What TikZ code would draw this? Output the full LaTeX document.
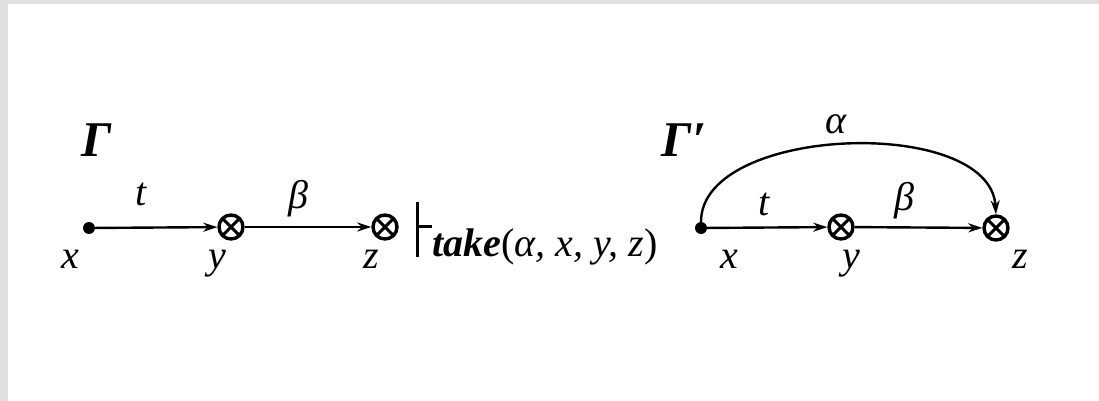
\documentclass[tikz,border=0pt]{standalone}
\usepackage{fontspec}
\setmainfont{Liberation Serif}
\usetikzlibrary{arrows.meta}
\begin{document}
\begin{tikzpicture}[x=1pt,y=-1pt,
  lbl/.style={font=\fontsize{40}{46}\selectfont\itshape, inner sep=0pt, anchor=base},
  biglbl/.style={font=\fontsize{50}{56}\selectfont\bfseries\itshape, inner sep=0pt, anchor=base},
  vdot/.style={circle, fill=black, inner sep=0pt, minimum size=12pt},
  otimes/.style={circle, draw=black, line width=3.4pt, inner sep=0pt, minimum size=24pt,
    path picture={\draw[line width=3pt] (path picture bounding box.north west) -- (path picture bounding box.south east)
      (path picture bounding box.north east) -- (path picture bounding box.south west);}},
  edge/.style={line width=2.4pt, -{Stealth[length=14pt,width=9pt]}}
]
\useasboundingbox (0,0) rectangle (1099,401);
\fill[black!12] (0,0) rectangle (1099,401);
\fill[white] (8,4) rectangle (1099,401);

% left graph
\node[biglbl] (G) at (97,156) {Γ};
\node[vdot] (x1) at (89,228) {};
\node[otimes] (y1) at (231,227) {};
\node[otimes] (z1) at (385,227) {};
\draw[edge] (x1) -- (y1);
\draw[edge] (y1) -- (z1);
\node[lbl] (t1) at (141,205) {t};
\node[lbl] (b1) at (298,208) {β};
\node[lbl] (xl1) at (70,268) {x};
\node[lbl] (yl1) at (217,268) {y};
\node[lbl] (zl1) at (371,268) {z};

% turnstile
\coordinate (ta) at (417,202);
\coordinate (tb) at (417,257);
\coordinate (tc) at (417,226);
\coordinate (td) at (432,226);
\draw[line width=3pt] (ta) -- (tb) (tc) -- (td);
\node[lbl, anchor=base west] (take) at (432,256) {\textbf{take}\upshape(\itshape α, x, y, z\upshape)};

% right graph
\node[biglbl] (G2) at (684,156) {Γ′};
\node[vdot] (x2) at (701,228) {};
\node[otimes] (y2) at (841,227) {};
\node[otimes] (z2) at (996,228) {};
\draw[edge] (x2) -- (y2);
\draw[edge] (y2) -- (z2);
\draw[edge] (x2.north) .. controls (701,125) and (990,115) .. (z2.north);
\node[lbl] (a2) at (836,133) {α};
\node[lbl] (t2) at (764,215) {t};
\node[lbl] (b2) at (904,210) {β};
\node[lbl] (xl2) at (729,268) {x};
\node[lbl] (yl2) at (851,268) {y};
\node[lbl] (zl2) at (1020,268) {z};
\end{tikzpicture}
\end{document}
